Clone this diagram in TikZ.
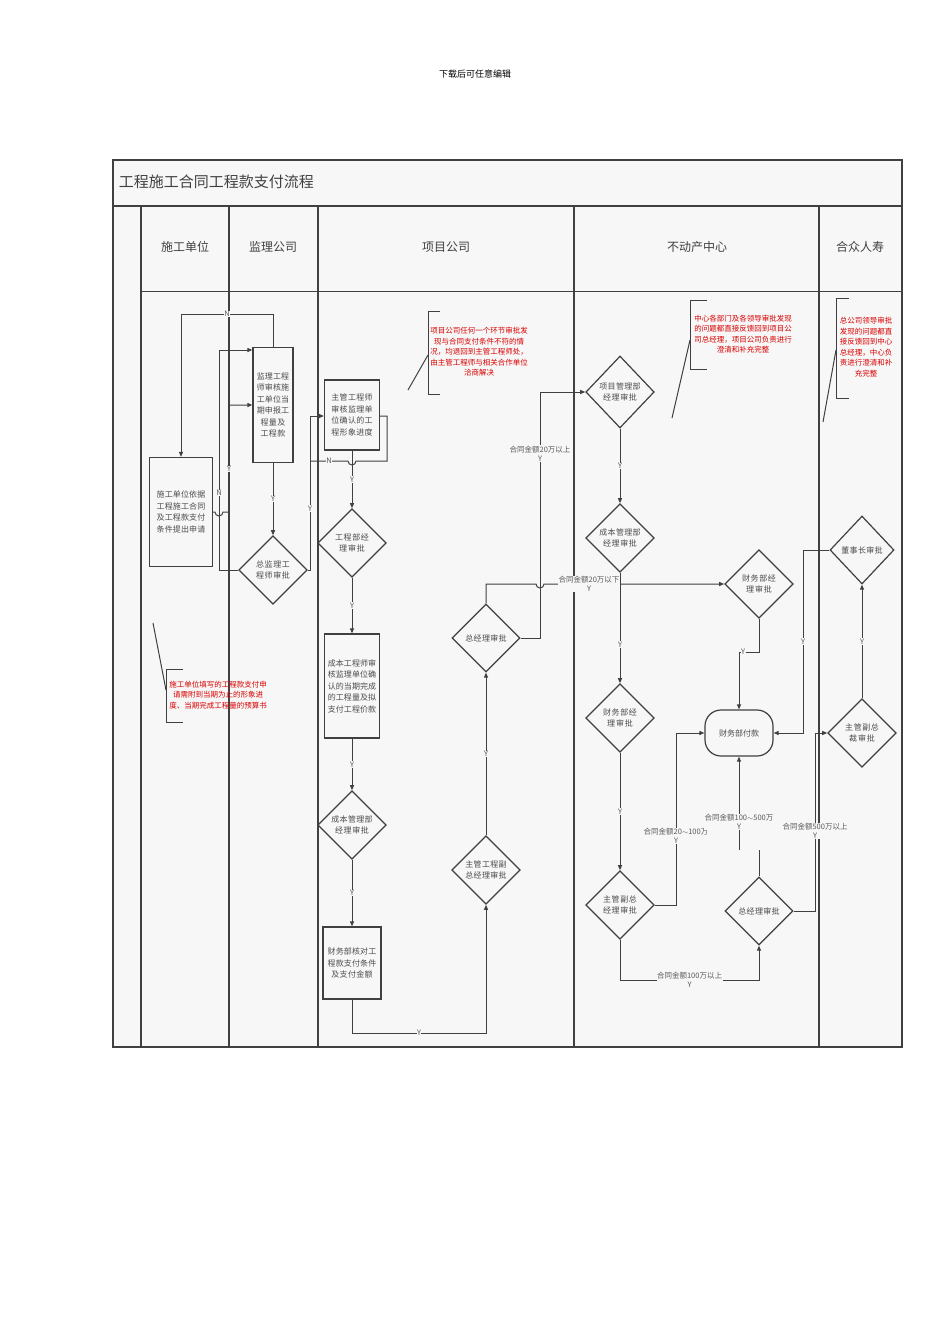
\documentclass[tikz,border=0pt]{standalone}
\usepackage{fontspec}
\setmainfont{Noto Sans CJK SC}
\XeTeXlinebreaklocale "zh"
\XeTeXlinebreakskip=0pt plus 1pt
\usetikzlibrary{shapes.geometric,arrows.meta}
\begin{document}
\begin{tikzpicture}[x=1pt,y=-1pt,
  line width=1pt, draw=black!75,
  box/.style={draw=black!75,line width=1.2pt,fill=black!3,align=center,inner sep=1pt,font=\fontsize{8}{11.5}\selectfont,text=black!70},
  dia/.style={diamond,draw=black!75,line width=1.2pt,fill=black!3,align=center,inner sep=0pt,minimum width=68pt,minimum height=68pt,font=\fontsize{8}{11}\selectfont,text=black!70,text width=50pt},
  lab/.style={font=\fontsize{7.5}{9}\selectfont,text=black!65,fill=black!3,inner sep=0.5pt},
  note/.style={font=\fontsize{7.5}{10.5}\selectfont,text=red!85!black,align=center},
  ar/.style={-{Triangle[length=5pt,width=4pt]}},
  hd/.style={font=\fontsize{12}{14}\selectfont,text=black!75}]
\useasboundingbox (0,0) rectangle (950,1344);
\fill[white] (0,0) rectangle (950,1344);
\node[font=\fontsize{9}{11}\selectfont] (top) at (475,74) {下载后可任意编辑};
% frame
\fill[black!3] (113,160) rectangle (902,1047);
\draw[line width=1.3pt] (113,160) rectangle (902,1047);
\draw[line width=1.3pt] (113,206) -- (902,206);
\draw (141,291) -- (902,291);
\foreach \x in {141,229,318,574,819} \draw[line width=1.2pt] (\x,206) -- (\x,1047);
\node[anchor=west,font=\fontsize{15}{17}\selectfont,text=black!75] (title) at (115,182) {工程施工合同工程款支付流程};
\node[hd] (h1) at (185,247) {施工单位};
\node[hd] (h2) at (273,247) {监理公司};
\node[hd] (h3) at (446,247) {项目公司};
\node[hd] (h4) at (697,247) {不动产中心};
\node[hd] (h5) at (860,247) {合众人寿};
% nodes
\node[box,minimum width=63pt,minimum height=109pt,text width=52pt] (A) at (181,512) {施工单位依据工程施工合同及工程款支付条件提出申请};
\node[box,minimum width=40pt,minimum height=115pt,text width=34pt] (B) at (273,405) {监理工程师审核施工单位当期申报工程量及工程款};
\node[dia] (C) at (273,570) {总监理工程师审批};
\node[box,minimum width=55pt,minimum height=70pt,text width=50pt] (D) at (352,415) {主管工程师审核监理单位确认的工程形象进度};
\node[dia,minimum width=64pt,minimum height=62pt] (E) at (352,543) {工程部经理审批};
\node[box,minimum width=55pt,minimum height=104pt,text width=50pt] (F) at (352,686) {成本工程师审核监理单位确认的当期完成的工程量及拟支付工程价款};
\node[dia] (G) at (352,825) {成本管理部经理审批};
\node[box,minimum width=58pt,minimum height=72pt,text width=52pt] (H) at (352,963) {财务部核对工程款支付条件及支付金额};
\node[dia] (I) at (486,870) {主管工程副总经理审批};
\node[dia] (J) at (486,638) {总经理审批};
\node[dia,minimum height=72pt] (K) at (620,392) {项目管理部经理审批};
\node[dia] (L) at (620,538) {成本管理部经理审批};
\node[dia] (M) at (620,718) {财务部经理审批};
\node[dia] (N) at (620,905) {主管副总经理审批};
\node[dia] (O) at (759,584) {财务部经理审批};
\node[box,rounded corners=16pt,minimum width=68pt,minimum height=46pt] (P) at (739,733) {财务部付款};
\node[dia] (Q) at (759,911) {总经理审批};
\node[dia,minimum width=64pt] (R) at (862,550) {董事长审批};
\node[dia,minimum width=64pt] (S) at (862,733) {主管副总裁审批};
% connectors
\draw[ar] (B.north) -- (273,314) -- node[lab]{N} (181,314) -- (A.north);
\draw[ar] (C.west) -- (219,570) -- node[lab,pos=0.35]{N} (219,350) -- (B.west |- 0,350);
\draw[ar] (A.east |- 0,512) -- (215,512) arc[start angle=180,end angle=0,radius=4] -- (229,512) -- node[lab,pos=0.4]{Y} (229,405) -- (B.west);
\draw[ar] (B.south) -- node[lab]{Y} (C.north);
\draw[ar] (C.east) -- (310,570) -- node[lab,pos=0.4]{Y} (310,416) -- (D.west |- 0,416);
\draw (D.east |- 0,416) -- (387,416) -- (387,461) -- (356,461) arc[start angle=0,end angle=180,radius=4] -- node[lab]{N} (310,461);
\draw[ar] (D.south) -- node[lab]{Y} (E.north);
\draw[ar] (E.south) -- node[lab]{Y} (F.north);
\draw[ar] (F.south) -- node[lab]{Y} (G.north);
\draw[ar] (G.south) -- node[lab]{Y} (H.north);
\draw[ar] (H.south) -- (352,1033) -- node[lab]{Y} (486,1033) -- (I.south);
\draw[ar] (I.north) -- node[lab]{Y} (J.south);
\draw[ar] (J.east) -- (540,638) -- node[lab,pos=0.75,align=center]{合同金额20万以上\\Y} (540,392) -- (K.west);
\draw[ar] (J.north) -- (486,584) -- (536,584) arc[start angle=180,end angle=0,radius=4] -- node[lab,pos=0.25,align=center,fill=black!3]{合同金额20万以下\\Y} (O.west);
\draw[ar] (K.south) -- node[lab]{Y} (L.north);
\draw[ar] (L.south) -- node[lab,pos=0.65]{Y} (M.north);
\draw[ar] (M.south) -- node[lab]{Y} (N.north);
\draw[ar] (N.east) -- (676,905) -- node[lab,pos=0.4,align=center]{合同金额20$\sim$100万\\Y} (676,733) -- (P.west);
\draw[ar] (N.south) -- (620,980) -- node[lab,align=center]{合同金额100万以上\\Y} (759,980) -- (Q.south);
\coordinate (qs) at (759,850);
\draw (Q.north) -- (qs);
\coordinate (ps) at (739,850);
\draw[ar] (ps) -- node[lab,pos=0.3,align=center]{合同金额100$\sim$500万\\Y} (P.south);
\draw[ar] (Q.east) -- (815,911) -- node[lab,pos=0.45,align=center]{合同金额500万以上\\Y} (815,733) -- (S.west);
\draw[ar] (S.north) -- node[lab]{Y} (R.south);
\draw[ar] (R.west) -- (803,550) -- node[lab]{Y} (803,733) -- (P.east);
\draw[ar] (O.south) -- (759,652) -- node[lab,pos=0.8]{Y} (739,652) -- (P.north);
% notes
\draw (440,311) -- (428,311) -- (428,394) -- (440,394); \draw (428,355) -- (408,390);
\node[note] (n1) at (479,352) {项目公司任何一个环节审批发\\现与合同支付条件不符的情\\况，均退回到主管工程师处，\\由主管工程师与相关合作单位\\洽商解决};
\draw (707,300) -- (690,300) -- (690,369) -- (707,369); \draw (690,340) -- (672,418);
\node[note] (n2) at (743,334) {中心各部门及各领导审批发现\\的问题都直接反馈回到项目公\\司总经理，项目公司负责进行\\澄清和补充完整};
\draw (849,298) -- (836,298) -- (836,398) -- (849,398); \draw (836,350) -- (823,422);
\node[note] (n3) at (866,347) {总公司领导审批\\发现的问题都直\\接反馈回到中心\\总经理，中心负\\责进行澄清和补\\充完整};
\draw (183,669) -- (166,669) -- (166,722) -- (183,722); \draw (166,690) -- (153,623);
\node[note] (n4) at (218,695) {施工单位填写的工程款支付申\\请需附到当期为止的形象进\\度、当期完成工程量的预算书};
\end{tikzpicture}
\end{document}
